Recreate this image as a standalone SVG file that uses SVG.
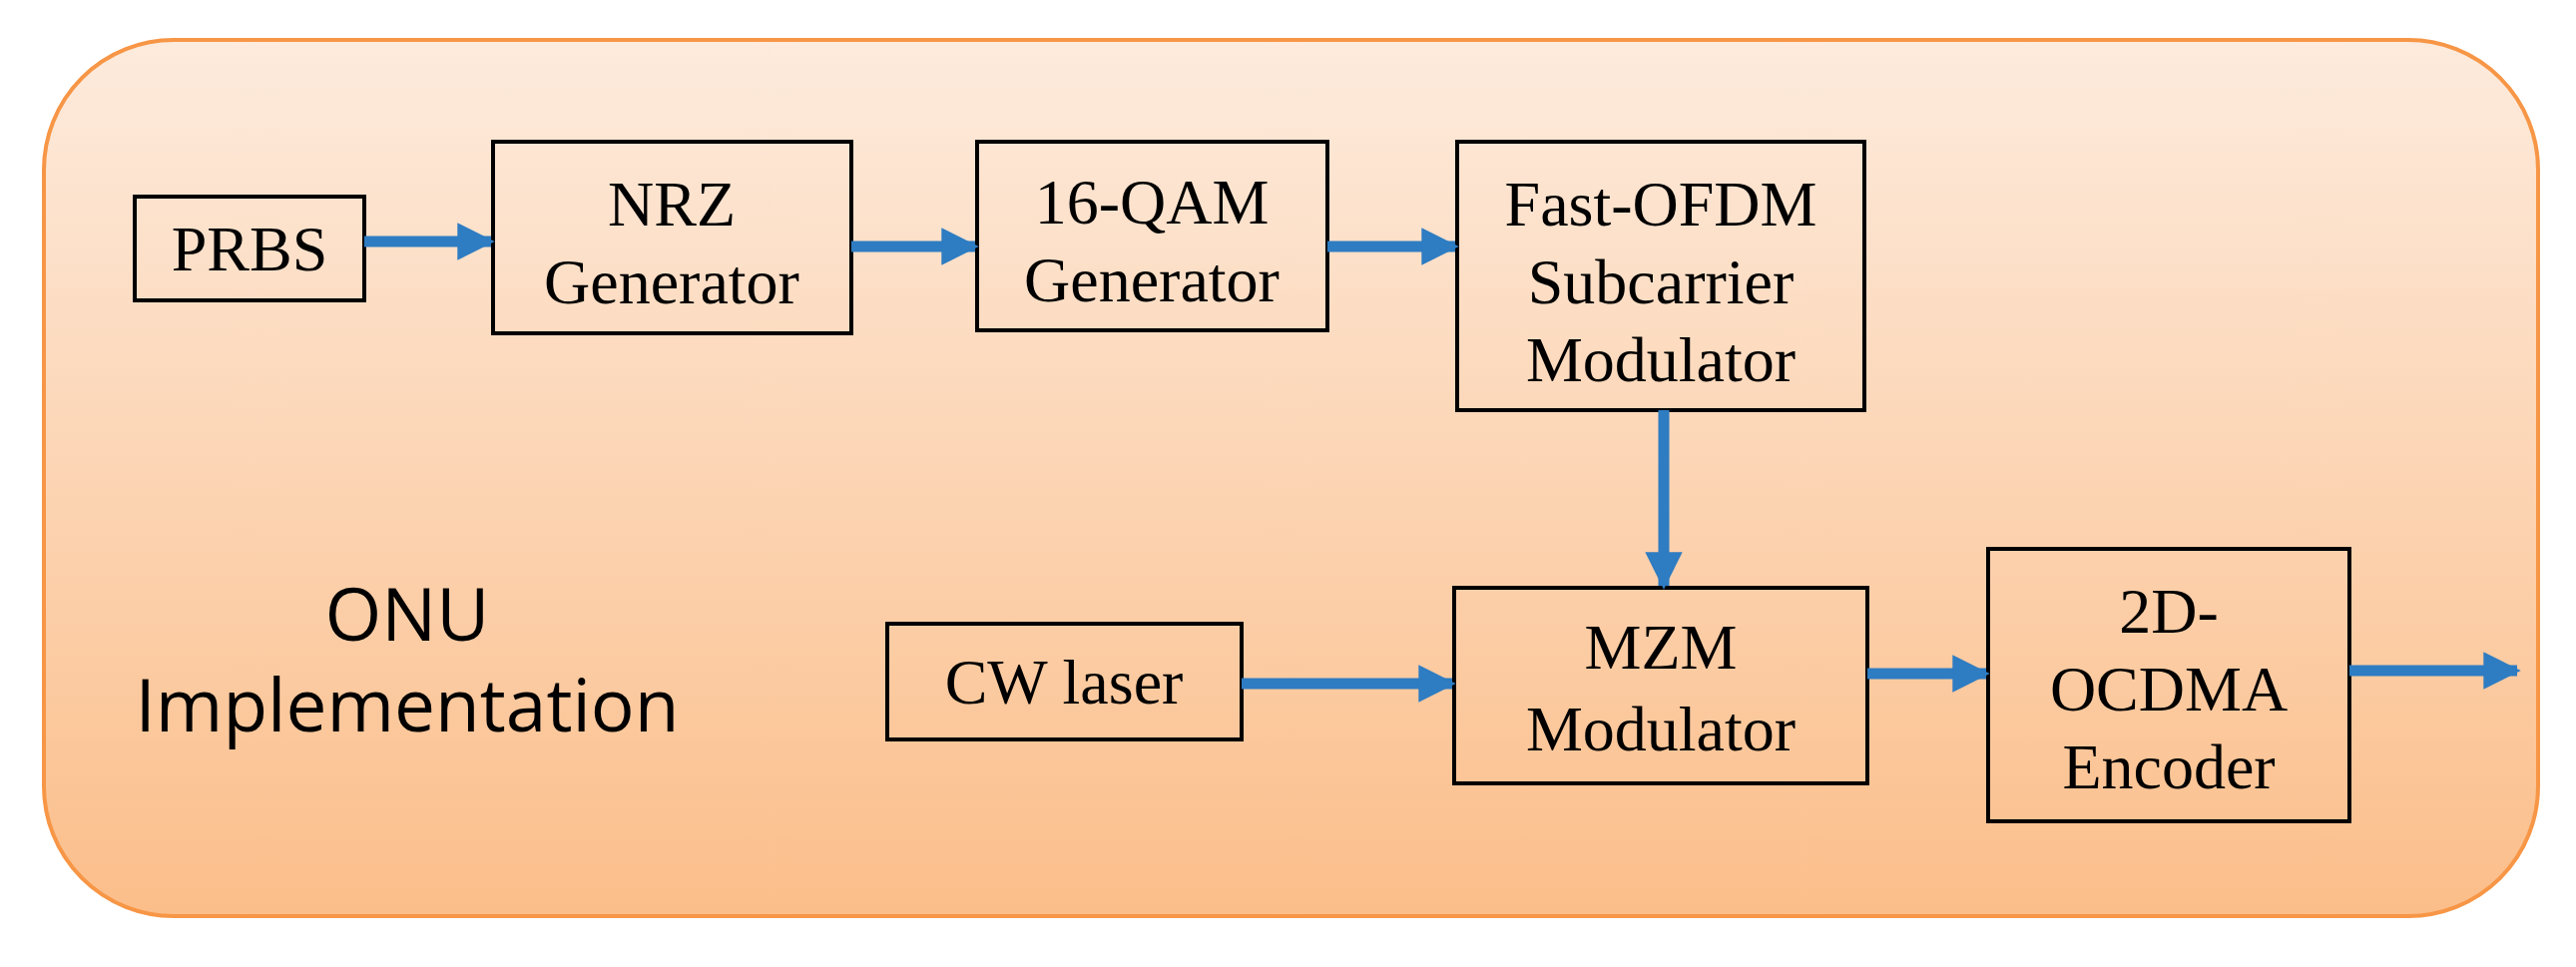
<svg xmlns="http://www.w3.org/2000/svg" width="2581" height="969" viewBox="0 0 2581 969">
<defs>
<linearGradient id="bg" x1="0" y1="0" x2="0" y2="1">
<stop offset="0" stop-color="#FDEBDD"/><stop offset="1" stop-color="#FBBE8A"/>
</linearGradient>
<marker id="ah" viewBox="0 0 10 10" refX="9" refY="5" markerWidth="3.4" markerHeight="4" orient="auto" markerUnits="strokeWidth">
<path d="M0,0 L10,5 L0,10 z" fill="#2E7CC2"/>
</marker>
<style>
.box{fill:none;stroke:#000;stroke-width:4}
.t{font-family:"Liberation Serif",serif;font-size:64px;text-anchor:middle;fill:#000}
.s{font-family:"Open Sans","DejaVu Sans",sans-serif;font-size:73px;text-anchor:middle;fill:#000}
.c{stroke:#2E7CC2;stroke-width:11;fill:none;marker-end:url(#ah)}
</style>
</defs>
<rect x="44" y="40" width="2499" height="878" rx="130" fill="url(#bg)" stroke="#F79646" stroke-width="4"/>
<g id="label"><text class="s" x="408" y="642">ONU</text><text class="s" x="408" y="733">Implementation</text></g>
<g id="prbs"><rect class="box" x="135" y="197" width="230" height="104"/><text class="t" x="250" y="271">PRBS</text></g>
<g id="nrz"><rect class="box" x="494" y="142" width="359" height="192"/><text class="t" x="673" y="226">NRZ</text><text class="t" x="673" y="304">Generator</text></g>
<g id="qam"><rect class="box" x="979" y="142" width="351" height="189"/><text class="t" x="1154" y="224">16-QAM</text><text class="t" x="1154" y="302">Generator</text></g>
<g id="fofdm"><rect class="box" x="1460" y="142" width="408" height="269"/><text class="t" x="1664" y="226">Fast-OFDM</text><text class="t" x="1664" y="304">Subcarrier</text><text class="t" x="1664" y="382">Modulator</text></g>
<g id="cw"><rect class="box" x="889" y="625" width="355" height="116"/><text class="t" x="1066" y="705">CW laser</text></g>
<g id="mzm"><rect class="box" x="1457" y="589" width="414" height="196"/><text class="t" x="1664" y="670">MZM</text><text class="t" x="1664" y="752">Modulator</text></g>
<g id="ocdma"><rect class="box" x="1992" y="550" width="362" height="273"/><text class="t" x="2173" y="634">2D-</text><text class="t" x="2173" y="712">OCDMA</text><text class="t" x="2173" y="790">Encoder</text></g>
<g id="connectors">
<line class="c" x1="365" y1="242" x2="492" y2="242"/>
<line class="c" x1="853" y1="247" x2="977" y2="247"/>
<line class="c" x1="1330" y1="247" x2="1458" y2="247"/>
<line class="c" x1="1667" y1="411" x2="1667" y2="587"/>
<line class="c" x1="1244" y1="685" x2="1455" y2="685"/>
<line class="c" x1="1871" y1="675" x2="1990" y2="675"/>
<line class="c" x1="2354" y1="672" x2="2522" y2="672"/>
</g>
</svg>
